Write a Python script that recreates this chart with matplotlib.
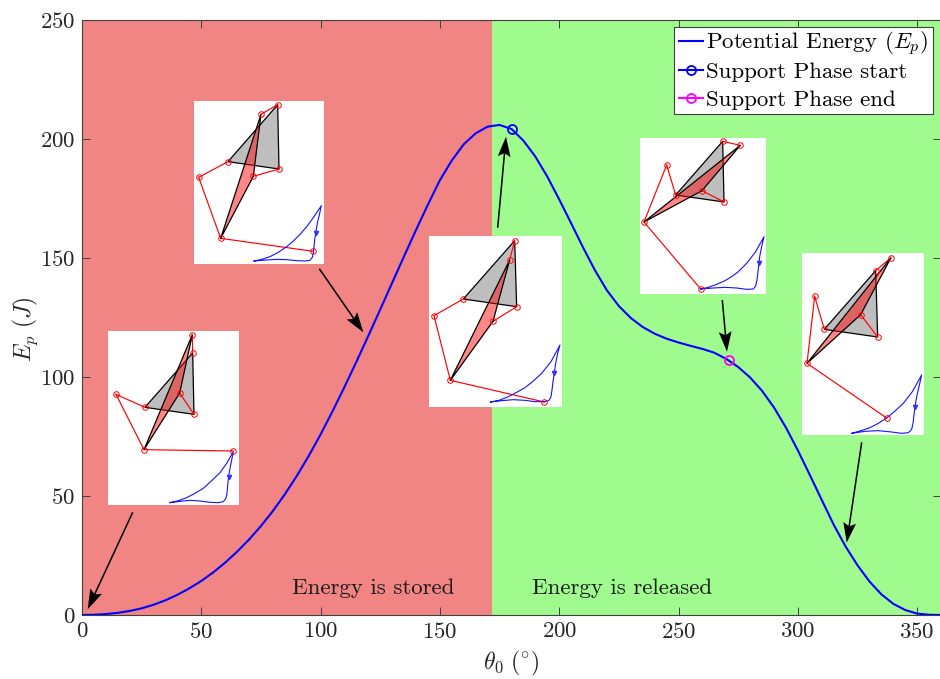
import numpy as np
import matplotlib
matplotlib.use("Agg")
import matplotlib.pyplot as plt
from matplotlib.patches import Polygon
from matplotlib.transforms import Bbox

plt.rcParams['font.family'] = ['cmr10', 'DejaVu Serif']
plt.rcParams['mathtext.fontset'] = 'cm'
plt.rcParams['axes.formatter.use_mathtext'] = True
plt.rcParams['axes.unicode_minus'] = False

W, H = 940, 679

theta = list(range(0, 365, 5))
energy = [0, 0.1, 0.4, 0.9, 1.7, 2.8, 4.3, 6.2, 8.5, 11.2, 14.3, 17.9, 22, 26.6, 31.7, 37.4, 43.7,
          50.7, 58.4, 66.8, 75.9, 85.6, 95.8, 106.4, 117.3, 128.4, 139.6, 150.8, 161.8, 172.5,
          182.7, 191, 197.8, 202.4, 205.2, 205.9, 204.2, 199.3, 192.6, 184.2, 174.6, 164.6,
          154.4, 144.8, 136.4, 129.8, 124.8, 121, 118.2, 116.1, 114.5, 113.1, 111.8, 110.2,
          107.6, 104.2, 99.8, 94.2, 87.2, 78.8, 69.2, 58.9, 48.4, 38, 28.8, 20.9, 14.1, 8.7,
          4.7, 2.1, 0.6, 0.1, 0]
support_start = (180, 204)
support_end = (271, 107)
phase_boundary = 171.8

inset1 = dict(origin=(100, 90), box=(282, 672, 33, 522),
              A=(533, 44), B=(483, 73), C=(384, 215), D=(296, 262), E=(362, 445), F=(640, 484),
              G=(537, 237), H=(460, 259), tri=('C', 'A', 'G'), red=('E', 'B', 'H'),
              loopx=[462, 485, 510, 535, 560, 580, 600, 620, 640, 652, 664, 658, 652, 647, 644, 642, 640, 637, 630, 615, 590, 560, 530, 500, 462],
              loopy=[513, 508, 500, 487, 470, 453, 433, 410, 383, 365, 347, 375, 400, 430, 450, 470, 488, 502, 511, 513, 512, 509, 508, 510, 513],
              mark=(647, 430))
inset2 = dict(origin=(100, 325), box=(24, 417, 18, 540),
              A=(277, 29), B=(278, 84), C=(135, 247), D=(48, 208), E=(132, 374), F=(400, 378),
              G=(282, 268), H=(239, 204), tri=('C', 'B', 'G'), red=('E', 'A', 'H'),
              loopx=[210, 235, 260, 285, 310, 335, 360, 380, 400, 395, 390, 386, 383, 381, 378, 370, 355, 330, 300, 270, 240, 210],
              loopy=[533, 527, 518, 505, 490, 467, 443, 415, 380, 405, 430, 455, 480, 505, 520, 530, 533, 532, 528, 526, 529, 533],
              mark=(387, 455))
inset3 = dict(origin=(425, 230), box=(12, 411, 18, 530),
              A=(269, 32), B=(254, 90), C=(115, 207), D=(27, 257), E=(76, 451), F=(358, 516),
              G=(275, 230), H=(204, 274), tri=('C', 'A', 'G'), red=('E', 'B', 'H'),
              loopx=[197, 225, 250, 275, 300, 325, 350, 378, 405, 398, 392, 388, 384, 381, 378, 372, 358, 330, 300, 265, 230, 197],
              loopy=[516, 510, 500, 487, 473, 453, 430, 395, 345, 370, 400, 428, 455, 480, 500, 511, 515, 515, 511, 509, 512, 516],
              mark=(388, 428))
inset4 = dict(origin=(635, 130), box=(15, 393, 24, 491),
              A=(263, 34), B=(316, 46), C=(122, 195), D=(95, 105), E=(27, 276), F=(197, 477),
              G=(267, 216), H=(201, 182), tri=('C', 'A', 'G'), red=('E', 'B', 'H'),
              loopx=[197, 220, 245, 270, 290, 310, 335, 362, 387, 380, 374, 372, 369, 366, 362, 355, 335, 305, 270, 235, 197],
              loopy=[477, 472, 463, 452, 440, 425, 400, 365, 320, 350, 380, 400, 425, 450, 468, 477, 478, 474, 472, 474, 477],
              mark=(372, 400))
inset5 = dict(origin=(795, 245), box=(22, 387, 24, 570),
              A=(288, 38), B=(242, 77), C=(88, 253), D=(59, 154), E=(36, 355), F=(275, 519),
              G=(248, 276), H=(197, 209), tri=('C', 'B', 'G'), red=('E', 'A', 'H'),
              loopx=[170, 195, 225, 250, 275, 300, 325, 352, 380, 372, 365, 360, 357, 354, 350, 340, 320, 290, 250, 210, 170],
              loopy=[565, 558, 548, 535, 519, 498, 475, 440, 390, 425, 455, 485, 510, 535, 553, 563, 565, 561, 557, 559, 565],
              mark=(360, 485))
insets = [inset1, inset2, inset3, inset4, inset5]

# Big arrows: tail and tip, in picture pixels
arrow_tails = [(132.7, 512.3), (319.3, 268.7), (497.7, 227.7), (722.3, 300.0), (861.7, 442.3)]
arrow_tips = [(87.7, 609.3), (363.3, 332.3), (506.0, 136.7), (727.0, 351.7), (846.7, 542.7)]

fig = plt.figure(figsize=(W / 100, H / 100), dpi=100)
ax = fig.add_axes([82 / W, 1 - 615 / H, 859 / W, 595 / H])
ax.set_xlim(0, 360)
ax.set_ylim(0, 250)
ax.axvspan(0, phase_boundary, color='#F08583', lw=0, zorder=0)
ax.axvspan(phase_boundary, 360, color='#A0FB8E', lw=0, zorder=0)

ax.plot(theta, energy, color='#0000FF', lw=1.5, zorder=3, label=r'Potential Energy ($E_p$)')
ax.plot(*support_start, color='#0000FF', marker='o', mfc='none', ms=6.5, mew=1.3, lw=1.5, zorder=4,
        ls='-', label='Support Phase start')
ax.plot(*support_end, color='#FF00FF', marker='o', mfc='none', ms=6.5, mew=1.3, lw=1.5, zorder=4,
        ls='-', label='Support Phase end')

ax.set_xticks(range(0, 351, 50))
ax.set_yticks(range(0, 251, 50))
ax.tick_params(direction='in', length=6, width=0.7, color='#404040', labelcolor='#262626',
               labelsize=16.5, top=True, right=True, pad=5)
for s in ax.spines.values():
    s.set_color('#404040')
    s.set_linewidth(0.8)
ax.set_xlabel(r'$\theta_0\ (^{\circ})$', fontsize=17, color='#262626', labelpad=5)
ax.set_ylabel(r'$E_p\ (J)$', fontsize=17, color='#262626', labelpad=0, y=0.48)

ax.text(121.9, 11.2, 'Energy is stored', fontsize=16.5, ha='center', va='center', color='#1a1a1a', zorder=5)
ax.text(226.4, 11.2, 'Energy is released', fontsize=16.5, ha='center', va='center', color='#1a1a1a', zorder=5)

leg = ax.legend(loc='upper right', bbox_to_anchor=(933 / W, 1 - 27 / H), bbox_transform=fig.transFigure,
                fontsize=16.5, fancybox=False, framealpha=1, edgecolor='#404040', borderpad=0.2,
                labelspacing=0.35, handlelength=1.05, handletextpad=0.15, borderaxespad=0)
leg.get_frame().set_linewidth(0.8)
leg.set_zorder(10)

# The math label makes the first legend row taller than the others: even out the row spacing.
first_label = leg._legend_handle_box.get_children()[0].get_children()[0].get_children()[1]
orig_bbox = first_label.get_bbox


def trimmed_bbox(renderer):
    b = orig_bbox(renderer)
    return Bbox.from_extents(b.x0, b.y0 + 4, b.x1, b.y1 - 2)


first_label.get_bbox = trimmed_bbox

for ins in insets:
    ox, oy = ins['origin']
    x0, x1, y0, y1 = ins['box']
    left, right = ox + x0 / 3, ox + x1 / 3
    top, bottom = oy + y0 / 3, oy + y1 / 3
    a = fig.add_axes([left / W, 1 - bottom / H, (right - left) / W, (bottom - top) / H], zorder=5)
    a.set_xlim(x0, x1)
    a.set_ylim(y1, y0)
    a.set_xticks([])
    a.set_yticks([])
    for s in a.spines.values():
        s.set_visible(False)
    a.set_facecolor('white')
    a.add_patch(Polygon([ins[k] for k in ins['tri']], closed=True, fc='#BEBEBE', ec='black', lw=0.9, zorder=2))
    for p, q in [('A', 'B'), ('C', 'D'), ('D', 'E'), ('E', 'F'), ('G', 'H')]:
        a.plot([ins[p][0], ins[q][0]], [ins[p][1], ins[q][1]], color='red', lw=0.85, zorder=3)
    a.add_patch(Polygon([ins[k] for k in ins['red']], closed=True, fc=(1, 0, 0, 0.47), ec='black', lw=0.9, zorder=4))
    for k in 'ABCDEFGH':
        a.plot(*ins[k], marker='o', ms=4.0, mfc='none', mec='red', mew=0.7, zorder=5, clip_on=False)
    a.plot(ins['loopx'], ins['loopy'], color='#1414FF', lw=0.8, zorder=3)
    a.plot(*ins['mark'], marker='v', ms=3, color='#3030FF', zorder=3)

over = fig.add_axes([0, 0, 1, 1], zorder=8)
over.set_xlim(0, W)
over.set_ylim(H, 0)
over.axis('off')
over.patch.set_alpha(0)
for tail, tip in zip(arrow_tails, arrow_tips):
    t = np.array(tail, float)
    p = np.array(tip, float)
    u = (p - t) / np.linalg.norm(p - t)
    n = np.array([-u[1], u[0]])
    base = p - 20 * u
    notch = p - 16.5 * u
    over.plot([t[0], notch[0]], [t[1], notch[1]], color='black', lw=1.1, solid_capstyle='butt')
    over.add_patch(Polygon([p, base + 6.4 * n, notch, base - 6.4 * n], closed=True, fc='black', ec='none'))

fig.savefig('out.png', dpi=100)
